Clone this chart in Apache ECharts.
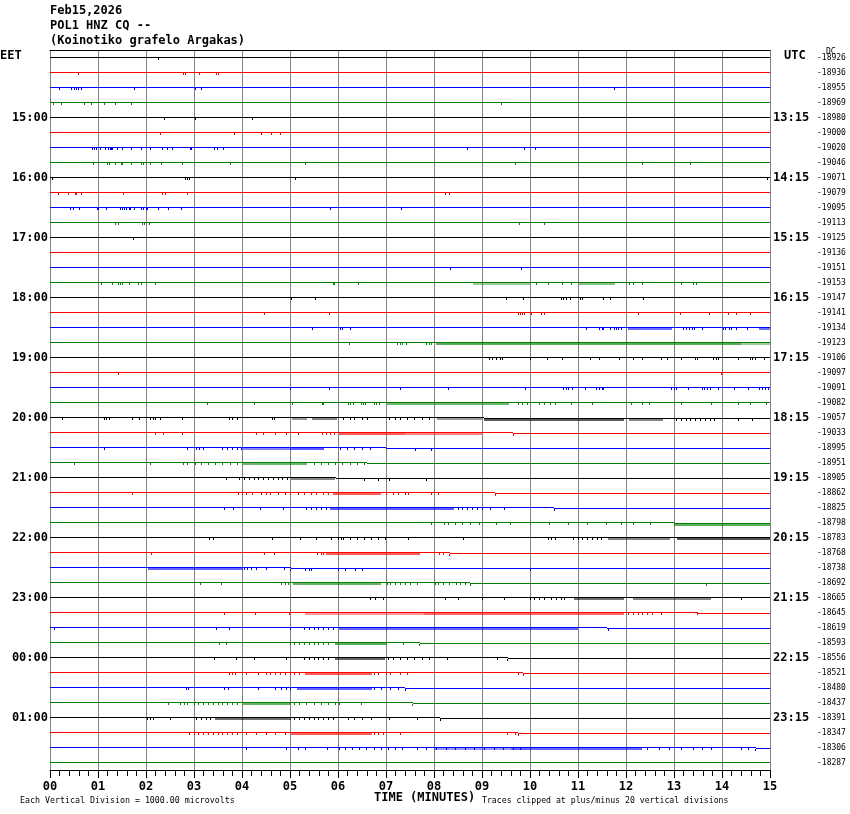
<!DOCTYPE html>
<html><head><meta charset="utf-8">
<script src="https://cdn.jsdelivr.net/npm/echarts@6/dist/echarts.min.js"></script>
<style>html,body{margin:0;padding:0;background:#fff}#c{width:850px;height:814px}</style>
</head><body><div id="c"></div>
<script>
const titleLines = ['Feb15,2026', 'POL1 HNZ CQ --', '(Koinotiko grafelo Argakas)'];
const minuteLabels = ['00','01','02','03','04','05','06','07','08','09','10','11','12','13','14','15'];
const eetHours = ['15:00','16:00','17:00','18:00','19:00','20:00','21:00','22:00','23:00','00:00','01:00'];
const utcHours = ['13:15','14:15','15:15','16:15','17:15','18:15','19:15','20:15','21:15','22:15','23:15'];
const dcOffsets = [-18926,-18936,-18955,-18969,-18980,-19000,-19020,-19046,-19071,-19079,-19095,-19113,
  -19125,-19136,-19151,-19153,-19147,-19141,-19134,-19123,-19106,-19097,-19091,-19082,
  -19057,-19033,-18995,-18951,-18905,-18862,-18825,-18798,-18783,-18768,-18738,-18692,
  -18665,-18645,-18619,-18593,-18556,-18521,-18480,-18437,-18391,-18347,-18306,-18287];
const traceColors = ['#000000', '#ff0000', '#0000ff', '#008000'];

// minute where a trace's baseline steps down by one pixel (null = none)
const levelShift = [null,null,null,null,null,null,null,null,null,null,null,null,
  null,null,null,null,null,null,null,null,null,null,null,null,
  9.04,9.65,7.0,6.6,5.95,9.28,10.5,13.0,null,8.33,5.02,8.75,
  null,13.5,11.6,7.7,9.54,9.86,7.4,7.56,8.13,9.76,14.7,null];

// isolated noise spikes per trace (minutes)
const spikeMinutes = [
  [2.25],
  [0.59,2.79,2.82,3.11,3.46,3.52],
  [0.19,0.45,0.52,0.56,0.60,0.65,1.77,3.04,3.16,11.75],
  [0.08,0.24,0.72,0.86,1.13,1.37,1.69,9.41],
  [2.39,3.04,4.22],
  [2.30,3.84,4.40,4.61,4.81],
  [0.89,0.93,0.96,1.05,1.15,1.22,1.26,1.29,1.31,1.41,1.51,1.69,1.90,2.09,2.34,2.44,2.56,2.92,2.95,3.43,3.49,3.61,8.69,9.88,10.12],
  [0.91,1.20,1.24,1.37,1.48,1.51,1.69,1.91,1.95,2.09,2.33,2.76,3.76,5.32,9.69,12.34,13.35],
  [0.05,2.82,2.87,2.90,5.12,14.95],
  [0.17,0.38,0.53,0.56,0.65,1.53,2.34,2.40,2.86,8.23,8.33],
  [0.43,0.48,0.62,0.99,1.02,1.17,1.46,1.50,1.55,1.60,1.65,1.67,1.77,1.91,1.95,2.00,2.03,2.27,2.47,2.73,5.84,7.32],
  [1.37,1.42,1.92,1.97,2.08,9.79,10.30],
  [1.74],
  [],
  [8.35,9.83],
  [1.07,1.31,1.42,1.46,1.51,1.65,1.85,1.90,2.20,5.90,5.93,6.43,10.14,10.38,10.67,10.86,12.08,12.15,12.34,13.16,13.40,13.46],
  [5.04,5.53,9.52,9.86,10.65,10.70,10.75,10.84,11.05,11.10,11.53,11.67,12.36],
  [4.47,5.83,9.76,9.80,9.84,9.88,10.03,10.24,10.30,12.27,13.13,13.73,14.13,14.30,14.59],
  [5.46,6.06,6.10,6.26,11.18,11.45,11.50,11.53,11.68,11.75,11.80,11.85,11.90,13.19,13.25,13.32,13.38,13.42,13.59,14.03,14.08,14.15,14.20,14.30,14.53],
  [6.24,7.24,7.30,7.35,7.42,7.85,7.90,7.95],
  [9.15,9.22,9.30,9.38,9.43,10.02,10.36,10.67,11.27,11.45,11.87,12.15,12.34,12.73,12.87,13.16,13.44,13.48,13.83,13.88,13.92,14.35,14.59,14.64,14.69,14.88],
  [1.42,13.99],
  [5.0,5.83,7.30,8.31,9.90,10.70,10.75,10.80,10.89,11.15,11.39,11.45,11.50,11.53,12.95,13.00,13.06,13.30,13.59,13.64,13.70,13.76,13.92,14.26,14.55,14.79,14.85,14.90,14.97],
  [3.28,4.26,5.05,5.67,5.69,6.22,6.27,6.32,6.48,6.53,6.58,6.75,6.80,6.87,9.76,9.85,9.95,10.19,10.30,10.43,10.53,10.86,11.30,12.11,12.34,12.49,13.16,13.78,14.35,14.59,14.93],
  [0.27,1.13,1.17,1.24,1.72,1.87,2.09,2.15,2.20,2.30,2.76,3.73,3.80,3.90,4.64,4.68,6.12,6.25,6.35,6.50,6.62,7.08,7.20,7.30,7.45,7.60,7.75,7.90,13.06,13.15,13.25,13.35,13.45,13.55,13.65,13.75,13.85,14.35,14.64],
  [2.20,2.37,2.75,4.31,4.45,4.69,4.93,5.17,5.67,5.75,5.85,5.93,9.65],
  [1.13,2.87,3.05,3.12,3.20,3.59,3.70,3.80,3.90,3.98,6.05,6.20,6.35,6.50,6.67,7.61,7.94],
  [0.50,2.09,2.78,2.87,3.03,3.15,3.30,3.45,3.60,3.75,3.90,5.50,5.65,5.80,5.95,6.10,6.25,6.40,6.55],
  [3.67,3.95,4.05,4.15,4.25,4.35,4.45,4.55,4.65,4.75,4.85,4.95,6.56,6.84,7.08,7.85],
  [1.72,3.92,4.02,4.10,4.21,4.40,4.50,4.60,4.75,4.90,5.02,5.17,5.30,5.45,5.55,5.70,5.80,7.00,7.15,7.25,7.40,7.46,7.94,8.09,9.28],
  [3.64,3.83,4.38,4.86,5.34,5.45,5.55,5.65,5.75,8.50,8.60,8.70,8.80,8.90,9.00,9.18,9.47,10.50],
  [7.94,8.21,8.30,8.45,8.60,8.75,8.95,9.30,9.60,10.00,10.40,10.80,11.20,11.60,11.90,12.15,12.50],
  [3.33,3.40,4.64,5.22,5.55,5.86,6.01,6.08,6.12,6.27,6.40,6.55,6.70,6.85,6.98,7.46,8.61,10.38,10.45,10.53,10.91,11.00,11.10,11.20,11.30,11.40,11.48],
  [2.12,4.46,4.68,5.58,5.65,5.70,8.11,8.20,8.33],
  [4.05,4.12,4.20,4.31,4.50,4.88,5.02,5.33,5.40,5.44,6.01,6.15,6.36,6.51,10.01],
  [3.14,3.57,4.83,4.90,4.97,7.03,7.10,7.20,7.30,7.40,7.50,7.65,8.04,8.10,8.20,8.33,8.47,8.56,8.65,8.75,13.68],
  [6.67,6.79,6.94,8.23,8.52,9.00,9.47,10.00,10.10,10.20,10.30,10.45,10.55,10.65,10.72,14.40],
  [3.64,4.28,4.98,12.06,12.15,12.25,12.35,12.45,12.55,12.73,13.49],
  [0.10,3.47,3.73,5.02,5.31,5.40,5.50,5.60,5.70,5.80,5.90,11.63],
  [3.54,3.68,5.02,5.10,5.20,5.30,5.40,5.50,5.60,5.70,5.80,7.37,7.70],
  [3.43,3.88,4.26,4.93,5.31,5.40,5.50,5.60,5.70,5.80,7.05,7.15,7.30,7.45,7.60,7.75,7.90,8.28,9.33,9.54],
  [3.73,3.80,3.86,4.10,4.35,4.52,4.60,4.70,4.80,4.90,5.00,5.10,5.20,6.75,6.85,7.00,7.10,7.30,7.45,9.76,9.86],
  [2.85,2.89,3.64,3.71,4.35,4.69,4.83,4.92,5.02,6.75,6.90,7.10,7.25,7.40],
  [2.47,2.71,2.80,2.87,3.02,3.10,3.20,3.30,3.40,3.50,3.60,3.70,3.80,3.90,5.10,5.20,5.35,5.50,5.65,5.80,5.95,6.03,6.49,7.56],
  [2.03,2.10,2.15,2.51,3.06,3.15,3.25,3.35,5.10,5.20,5.30,5.40,5.50,5.60,5.70,5.80,5.90,6.22,6.35,6.50,6.70,7.08,7.66,8.13],
  [2.90,3.00,3.10,3.20,3.30,3.40,3.50,3.60,3.70,3.80,3.90,4.10,4.30,4.50,4.70,4.90,6.75,6.85,6.95,7.30,9.54,9.69,9.76],
  [4.10,4.93,5.17,5.33,5.79,6.03,6.15,6.30,6.45,6.60,6.75,6.90,7.05,7.20,7.35,7.65,7.85,8.05,8.25,8.45,8.65,8.85,9.05,9.25,9.45,9.65,9.80,12.45,12.70,12.90,13.15,13.40,13.60,13.78,14.40,14.55,14.70],
  []
];

// dense noise segments per trace: [start minute, end minute, density]
const noiseBands = [
  [],[],[],[],[],[],[],[],[],[],[],[],[],[],[],
  [[8.81,10.0,0.5],[11.03,11.77,0.6]],
  [],[],
  [[12.04,12.96,0.7],[14.78,15.0,0.7]],
  [[8.04,14.4,0.8],[14.4,15.0,0.5]],
  [],[],[],
  [[7.03,9.57,0.7]],
  [[5.05,5.36,0.5],[5.45,5.98,0.6],[8.06,9.0,0.5],[9.04,11.96,0.8],[12.06,12.78,0.6]],
  [[6.03,7.4,0.8],[7.4,9.0,0.6]],
  [[4.02,5.0,0.6],[5.0,5.70,0.8]],
  [[4.02,5.36,0.7]],
  [[5.02,5.93,0.6]],
  [[5.89,6.89,0.8]],
  [[5.84,8.42,0.8]],
  [[13.0,15.0,0.8]],
  [[11.63,12.92,0.6],[13.06,15.0,0.85]],
  [[5.74,7.70,0.8]],
  [[2.04,4.02,0.75]],
  [[5.07,6.90,0.75]],
  [[10.91,11.96,0.7],[12.15,13.78,0.6]],
  [[5.31,7.80,0.5],[7.80,11.96,0.75]],
  [[6.03,11.0,0.75]],
  [[5.93,7.03,0.8]],
  [[5.93,6.98,0.75]],
  [[5.31,6.70,0.8]],
  [[5.14,6.70,0.75]],
  [[4.02,5.02,0.75]],
  [[3.44,5.02,0.7]],
  [[5.02,6.70,0.8]],
  [[8.0,9.6,0.5],[9.6,12.34,0.75]],
  []
];

const N = dcOffsets.length;
const traceIdx = dcOffsets.map((_, i) => i);
const eetCats = traceIdx.map(i => (i > 0 && i % 4 === 0) ? eetHours[i / 4 - 1] : '');
const utcCats = traceIdx.map(i => (i > 0 && i % 4 === 0) ? utcHours[i / 4 - 1] : '');
const dcCats = dcOffsets.map(String);

const traceData = traceIdx.map(i => [0, i]);
const spikeData = [];
spikeMinutes.forEach((arr, i) => arr.forEach(m => spikeData.push([m, i])));
const bandData = [];
noiseBands.forEach((arr, i) => arr.forEach(b => bandData.push([b[0], i, b[1], b[2]])));

function shiftPx(i, m) { const s = levelShift[i]; return (s != null && m >= s) ? 1 : 0; }

const mono = '"DejaVu Sans Mono", "Liberation Mono", monospace';
const chart = echarts.init(document.getElementById('c'), null, { renderer: 'canvas' });

const option = {
  backgroundColor: '#ffffff',
  animation: false,
  grid: { left: 50, right: 80, top: 50, bottom: 44, containLabel: false },
  xAxis: [{
    type: 'value', min: 0, max: 15, interval: 1, position: 'bottom',
    axisLine: { show: true, onZero: false, lineStyle: { color: '#000', width: 1 } },
    axisTick: { show: true, length: 8, lineStyle: { color: '#000' } },
    minorTick: { show: true, splitNumber: 5, length: 6, lineStyle: { color: '#000' } },
    splitLine: { show: true, lineStyle: { color: '#808080', width: 1 } },
    axisLabel: { margin: 11, color: '#000', fontFamily: mono, fontWeight: 'bold', fontSize: 12,
      formatter: v => minuteLabels[Math.round(v)] }
  }, {
    type: 'value', min: 0, max: 15, position: 'top',
    axisLine: { show: true, onZero: false, lineStyle: { color: '#000', width: 1 } },
    axisTick: { show: false }, axisLabel: { show: false }, splitLine: { show: false }
  }],
  yAxis: [{
    type: 'value', min: -0.5, max: 47.5, inverse: true, show: false
  }, {
    type: 'category', data: eetCats, inverse: true, position: 'left',
    axisLine: { show: false }, axisTick: { show: false }, splitLine: { show: false },
    axisLabel: { interval: 0, margin: 2, color: '#000', fontFamily: mono, fontWeight: 'bold', fontSize: 12 }
  }, {
    type: 'category', data: utcCats, inverse: true, position: 'right',
    axisLine: { show: false }, axisTick: { show: false }, splitLine: { show: false },
    axisLabel: { interval: 0, margin: 3, color: '#000', fontFamily: mono, fontWeight: 'bold', fontSize: 12 }
  }, {
    type: 'category', data: dcCats, inverse: true, position: 'right', offset: 47,
    axisLine: { show: false }, axisTick: { show: false }, splitLine: { show: false },
    axisLabel: { interval: 0, margin: 0, color: '#000', fontFamily: mono, fontSize: 8, padding: [2, 0, 0, 0] }
  }],
  series: [{
    type: 'custom', xAxisIndex: 0, yAxisIndex: 0, clip: false, silent: true, z: 3,
    data: traceData,
    renderItem: (params, api) => {
      const i = api.value(1);
      const col = traceColors[i % 4];
      const p0 = api.coord([0, i]), p1 = api.coord([15, i]);
      const s = levelShift[i];
      if (s == null) {
        return { type: 'line', shape: { x1: p0[0], y1: p0[1], x2: p1[0], y2: p1[1] }, style: { stroke: col, lineWidth: 1 } };
      }
      const ps = api.coord([s, i]);
      const xs = Math.round(ps[0]);
      return { type: 'group', children: [
        { type: 'line', shape: { x1: p0[0], y1: p0[1], x2: xs, y2: p0[1] }, style: { stroke: col, lineWidth: 1 } },
        { type: 'line', shape: { x1: xs, y1: p0[1] + 1, x2: p1[0], y2: p1[1] + 1 }, style: { stroke: col, lineWidth: 1 } }
      ] };
    }
  }, {
    type: 'custom', xAxisIndex: 0, yAxisIndex: 0, clip: false, silent: true, z: 4,
    data: bandData,
    renderItem: (params, api) => {
      const s = api.value(0), i = api.value(1), e = api.value(2), d = api.value(3);
      const a = api.coord([s, i]), b = api.coord([e, i]);
      const x = Math.round(a[0]);
      return { type: 'rect', shape: { x: x, y: a[1] + 0.5 + shiftPx(i, s), width: Math.max(1, Math.round(b[0]) - x), height: 2 },
        style: { fill: traceColors[i % 4], opacity: d * 0.8 } };
    }
  }, {
    type: 'custom', xAxisIndex: 0, yAxisIndex: 0, clip: false, silent: true, z: 4,
    data: spikeData,
    renderItem: (params, api) => {
      const m = api.value(0), i = api.value(1);
      const p = api.coord([m, i]);
      return { type: 'rect', shape: { x: Math.floor(p[0]), y: p[1] + 0.5 + shiftPx(i, m), width: 1, height: 2 },
        style: { fill: traceColors[i % 4] } };
    }
  }],
  graphic: [
    { type: 'text', left: 50, top: 5, style: { text: titleLines[0], font: 'bold 12px ' + mono, fill: '#000' } },
    { type: 'text', left: 50, top: 20, style: { text: titleLines[1], font: 'bold 12px ' + mono, fill: '#000' } },
    { type: 'text', left: 50, top: 35, style: { text: titleLines[2], font: 'bold 12px ' + mono, fill: '#000' } },
    { type: 'text', left: 0, top: 50, style: { text: 'EET', font: 'bold 12px ' + mono, fill: '#000' } },
    { type: 'text', left: 784, top: 50, style: { text: 'UTC', font: 'bold 12px ' + mono, fill: '#000' } },
    { type: 'text', left: 826, top: 48, style: { text: 'DC', font: '8px ' + mono, fill: '#000' } },
    { type: 'text', left: 374, top: 792, style: { text: 'TIME (MINUTES)', font: 'bold 12px ' + mono, fill: '#000' } },
    { type: 'text', left: 20, top: 797, style: { text: 'Each Vertical Division = 1000.00 microvolts', font: '8.3px ' + mono, fill: '#000' } },
    { type: 'text', left: 482, top: 797, style: { text: 'Traces clipped at plus/minus 20 vertical divisions', font: '8.2px ' + mono, fill: '#000' } }
  ]
};
chart.setOption(option);
</script>
</body></html>
